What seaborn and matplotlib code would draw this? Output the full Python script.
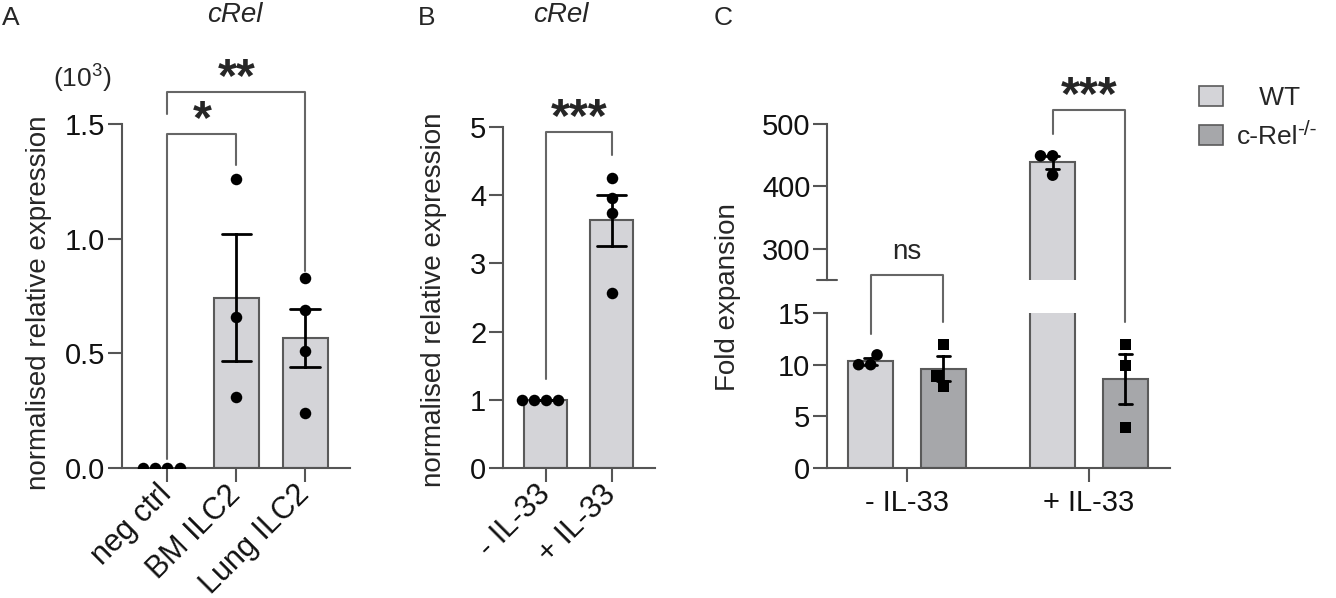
import numpy as np
import pandas as pd
import matplotlib
matplotlib.use("Agg")
import matplotlib.pyplot as plt
import seaborn as sns
from matplotlib.patches import Patch
from matplotlib.lines import Line2D

# ---------------- data ----------------
a_groups = ["neg ctrl", "BM ILC2", "Lung ILC2"]
a_negctrl = [0.0, 0.0, 0.0, 0.0]
a_bm = [1.26, 0.66, 0.31]
a_lung = [0.83, 0.69, 0.51, 0.24]

b_groups = ["- IL-33", "+ IL-33"]
b_minus = [1.0, 1.0, 1.0, 1.0]
b_plus = [4.25, 3.96, 3.74, 2.57]

c_groups = ["- IL-33", "+ IL-33"]
c_genotypes = ["WT", "c-Rel"]
c_wt_minus = [10.0, 10.95, 10.0]
c_ko_minus = [11.95, 7.95, 8.9]
c_wt_plus = [449.0, 418.0, 449.0]
c_ko_plus = [11.95, 9.9, 3.9]

a_sig = ["*", "**"]
b_sig = ["***"]
c_sig = ["ns", "***"]

# ---------------- tables ----------------
dfA = pd.DataFrame({
    "group": np.repeat(a_groups, [len(a_negctrl), len(a_bm), len(a_lung)]),
    "value": a_negctrl + a_bm + a_lung,
})
dfB = pd.DataFrame({
    "group": np.repeat(b_groups, [len(b_minus), len(b_plus)]),
    "value": b_minus + b_plus,
})
c_vals = [c_wt_minus, c_ko_minus, c_wt_plus, c_ko_plus]
c_cond = [c_groups[0], c_groups[0], c_groups[1], c_groups[1]]
c_gen = [c_genotypes[0], c_genotypes[1], c_genotypes[0], c_genotypes[1]]
dfC = pd.DataFrame({
    "cond": np.concatenate([[c] * len(v) for c, v in zip(c_cond, c_vals)]),
    "genotype": np.concatenate([[g] * len(v) for g, v in zip(c_gen, c_vals)]),
    "value": np.concatenate(c_vals),
})

# ---------------- style ----------------
sns.set_theme(style="ticks")
plt.rcParams["font.family"] = ["Liberation Sans", "DejaVu Sans"]
plt.rcParams["mathtext.fontset"] = "custom"
plt.rcParams["mathtext.rm"] = "Liberation Sans"
plt.rcParams["mathtext.it"] = "Liberation Sans:italic"

LIGHT = "#d4d4d8"
DARK = "#a6a7aa"
EDGE = "#5a5a5a"
SPINE = "#555555"
BRK = "#666666"
FS = 20

W, H = 1336, 598
fig = plt.figure(figsize=(W / 100, H / 100), dpi=100)


def rect(l, r, t, b):
    return [l / W, 1 - b / H, (r - l) / W, (b - t) / H]


axA = fig.add_axes(rect(122, 350, 124, 468))
axB = fig.add_axes(rect(503, 655, 127, 468))
axCt = fig.add_axes(rect(827, 1170, 124, 280))
axCb = fig.add_axes(rect(827, 1170, 313, 468))

bar_kw = dict(errorbar="se", saturation=1, edgecolor=EDGE, linewidth=1.5,
              err_kws={"color": "black", "linewidth": 2})

# Panel A
sns.barplot(data=dfA, x="group", y="value", order=a_groups, color=LIGHT,
            width=0.65, capsize=0.43, ax=axA, **bar_kw)
sns.swarmplot(data=dfA, x="group", y="value", order=a_groups, color="black",
              size=8.3, ax=axA)

# Panel B
sns.barplot(data=dfB, x="group", y="value", order=b_groups, color=LIGHT,
            width=0.65, capsize=0.43, ax=axB, **bar_kw)
sns.swarmplot(data=dfB, x="group", y="value", order=b_groups, color="black",
              size=8.3, ax=axB)

# Panel C (broken axis)
for ax in (axCt, axCb):
    sns.barplot(data=dfC, x="cond", y="value", hue="genotype", order=c_groups,
                hue_order=c_genotypes, palette=[LIGHT, DARK], width=0.8,
                gap=0.38, capsize=0.14, legend=False, ax=ax, **bar_kw)
    for g, mk in zip(c_genotypes, ["o", "s"]):
        sns.swarmplot(data=dfC[dfC["genotype"] == g], x="cond", y="value",
                      hue="genotype", order=c_groups, hue_order=c_genotypes,
                      dodge=True, palette=["black", "black"], marker=mk,
                      size=8.3, legend=False, ax=ax, warn_thresh=1.0)

# ---------------- axes styling ----------------
for ax in (axA, axB, axCt, axCb):
    for s in ("top", "right"):
        ax.spines[s].set_visible(False)
    for s in ("left", "bottom"):
        ax.spines[s].set_color(SPINE)
        ax.spines[s].set_linewidth(1.5)
    ax.tick_params(length=10, width=1.5, color=SPINE, labelsize=21,
                   labelcolor="#111111", pad=2)
    ax.set_xlabel("")
    ax.set_ylabel("")

axA.set_xlim(-0.66, 2.65)
axA.set_ylim(0, 1.5)
axA.set_yticks([0, 0.5, 1.0, 1.5])
axA.set_yticklabels(["0.0", "0.5", "1.0", "1.5"])
axA.set_xticks(range(len(a_groups)))
axA.set_xticklabels(a_groups, rotation=45, ha="right", va="center",
                    rotation_mode="anchor", fontsize=22)
axA.tick_params(axis="x", pad=6)

axB.set_xlim(-0.65, 1.66)
axB.set_ylim(0, 5)
axB.set_yticks([0, 1, 2, 3, 4, 5])
axB.set_xticks(range(len(b_groups)))
axB.set_xticklabels(b_groups, rotation=45, ha="right", va="center",
                    rotation_mode="anchor", fontsize=22)
axB.tick_params(axis="x", pad=6)

for ax in (axCt, axCb):
    ax.set_xlim(-0.44, 1.445)
axCt.set_ylim(250, 500)
axCt.set_yticks([300, 400, 500])
axCt.spines["bottom"].set_visible(False)
axCt.tick_params(axis="x", bottom=False, labelbottom=False)
axCt.patch.set_alpha(0)
axCb.set_ylim(0, 15)
axCb.set_yticks([0, 5, 10, 15])
axCb.set_xticks(range(len(c_groups)))
axCb.set_xticklabels(c_groups)
axCb.tick_params(axis="x", pad=5)
axCt.plot([-0.03, 0.03], [0, 0], transform=axCt.transAxes, color=SPINE,
          lw=1.5, clip_on=False)

# ---------------- annotations ----------------
inv = fig.transFigure.inverted()


def to_fig(ax, x, y):
    return inv.transform(ax.transData.transform((x, y)))


def bracket(axl, xl, yl, axr, xr, yr, axt, yt):
    pts = [to_fig(axl, xl, yl), to_fig(axt, xl, yt), to_fig(axt, xr, yt),
           to_fig(axr, xr, yr)]
    fig.add_artist(Line2D([p[0] for p in pts], [p[1] for p in pts],
                          transform=fig.transFigure, color=BRK, lw=1.5))


def star(ax, x, ytop, s, size=35):
    p = ax.transData.transform((x, ytop))
    q = inv.transform((p[0], p[1] + 1))
    fig.text(q[0], q[1], s, ha="center", va="baseline", fontsize=size,
             fontweight="bold")


# A
bracket(axA, 0, 0.04, axA, 1, 1.32, axA, 1.455)
bracket(axA, 0, 1.545, axA, 2, 0.86, axA, 1.64)
star(axA, 0.5, 1.455, a_sig[0])
star(axA, 1.0, 1.64, a_sig[1])
# B
bracket(axB, 0, 1.30, axB, 1, 4.59, axB, 4.92)
star(axB, 0.5, 4.92, b_sig[0])

# C: x positions from drawn bars
cents = sorted(p.get_x() + p.get_width() / 2 for p in axCb.patches)
bracket(axCb, cents[0], 13.0, axCb, cents[1], 14.1, axCb, 18.7)
bracket(axCt, cents[2], 484, axCb, cents[3], 14.1, axCt, 522.4)
p = to_fig(axCb, (cents[0] + cents[1]) / 2, 20.9)
fig.text(p[0], p[1], c_sig[0], ha="center", va="center", fontsize=FS)
star(axCt, (cents[2] + cents[3]) / 2, 522.4, c_sig[1])

# legend
handles = [Patch(facecolor=LIGHT, edgecolor=EDGE, lw=1.2),
           Patch(facecolor=DARK, edgecolor=EDGE, lw=1.2)]
leg = fig.legend(handles, ["   WT", c_genotypes[1]], loc="upper left",
                 bbox_to_anchor=(1199 / W, 1 - 86 / H), frameon=False,
                 fontsize=19, handlelength=0.9, handleheight=0.8,
                 handletextpad=0.55, labelspacing=0.55, borderpad=0,
                 borderaxespad=0)
fig.canvas.draw()
bb = leg.get_texts()[1].get_window_extent(fig.canvas.get_renderer())
q = inv.transform((bb.x1 - 2, bb.y1 + 5))
fig.text(q[0], q[1], "-/-", ha="left", va="top", fontsize=15)

# labels and titles
fig.text(39 / W, 1 - 303 / H, "normalised relative expression", rotation=90,
         ha="center", va="center", fontsize=FS)
fig.text(434 / W, 1 - 300 / H, "normalised relative expression", rotation=90,
         ha="center", va="center", fontsize=FS)
fig.text(728 / W, 1 - 297 / H, "Fold expansion", rotation=90,
         ha="center", va="center", fontsize=FS)
fig.text(82 / W, 1 - 79 / H, "(10$^3$)", ha="center", va="center", fontsize=19)
fig.text(235 / W, 1 - 15 / H, "cRel", ha="center", va="center", fontsize=20,
         style="italic")
fig.text(561 / W, 1 - 15 / H, "cRel", ha="center", va="center", fontsize=20,
         style="italic")
fig.text(2 / W, 1 - 18 / H, "A", ha="left", va="center", fontsize=19)
fig.text(418 / W, 1 - 18 / H, "B", ha="left", va="center", fontsize=19)
fig.text(714 / W, 1 - 18 / H, "C", ha="left", va="center", fontsize=19)

fig.savefig("out.png", dpi=100, facecolor="white")
